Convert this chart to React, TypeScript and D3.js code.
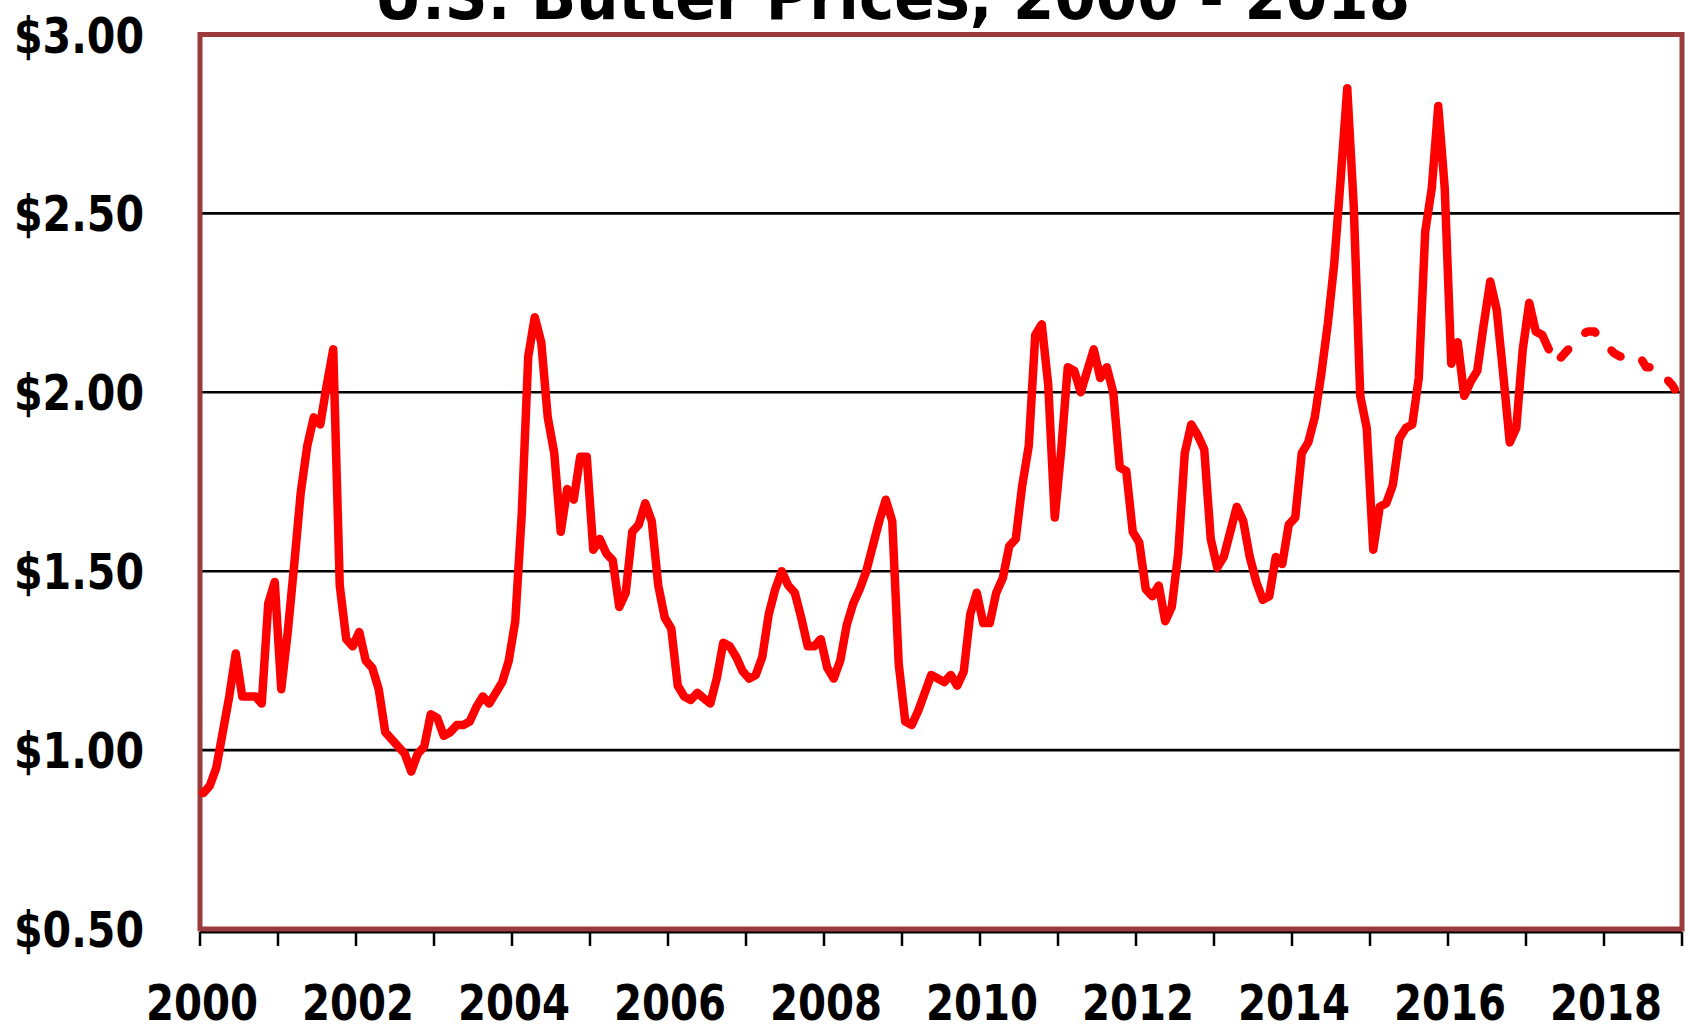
import React from "react";
import * as d3 from "d3";

// monthly butter price, $/lb, Jan 2000 .. Apr 2017 (actual)
const actual = [
  // 2000
  0.88, 0.9, 0.95, 1.05, 1.15, 1.27, 1.15, 1.15, 1.15, 1.13, 1.41, 1.47,
  // 2001
  1.17, 1.33, 1.52, 1.72, 1.85, 1.93, 1.91, 2.02, 2.12, 1.46, 1.31, 1.29,
  // 2002
  1.33, 1.25, 1.23, 1.17, 1.05, 1.03, 1.01, 0.99, 0.94, 0.99, 1.01, 1.1,
  // 2003
  1.09, 1.04, 1.05, 1.07, 1.07, 1.08, 1.12, 1.15, 1.13, 1.16, 1.19, 1.25,
  // 2004
  1.36, 1.66, 2.1, 2.21, 2.14, 1.93, 1.83, 1.61, 1.73, 1.7, 1.82, 1.82,
  // 2005
  1.56, 1.59, 1.55, 1.53, 1.4, 1.44, 1.61, 1.63, 1.69, 1.64, 1.46, 1.37,
  // 2006
  1.34, 1.18, 1.15, 1.14, 1.16, 1.145, 1.13, 1.2, 1.3, 1.29, 1.26, 1.22,
  // 2007
  1.2, 1.21, 1.26, 1.38, 1.45, 1.5, 1.46, 1.44, 1.37, 1.29, 1.29, 1.31,
  // 2008
  1.23, 1.2, 1.25, 1.35, 1.41, 1.45, 1.5, 1.57, 1.64, 1.7, 1.64, 1.24,
  // 2009
  1.08, 1.07, 1.11, 1.16, 1.21, 1.2, 1.19, 1.21, 1.18, 1.22, 1.38, 1.44,
  // 2010
  1.355, 1.355, 1.44, 1.48, 1.57, 1.59, 1.74, 1.85, 2.16, 2.19, 2.02, 1.65,
  // 2011
  1.84, 2.07, 2.06, 2.0, 2.06, 2.12, 2.04, 2.07, 2.0, 1.79, 1.78, 1.61,
  // 2012
  1.58, 1.45, 1.43, 1.46, 1.36, 1.4, 1.55, 1.83, 1.91, 1.88, 1.84, 1.59,
  // 2013
  1.51, 1.54, 1.61, 1.68, 1.64, 1.54, 1.47, 1.42, 1.43, 1.54, 1.52, 1.63,
  // 2014
  1.65, 1.83, 1.86, 1.93, 2.05, 2.19, 2.36, 2.6, 2.85, 2.52, 1.99, 1.9,
  // 2015
  1.56, 1.68, 1.69, 1.74, 1.87, 1.9, 1.91, 2.04, 2.45, 2.57, 2.8, 2.57,
  // 2016
  2.08, 2.14, 1.99, 2.03, 2.06, 2.19, 2.31, 2.23, 2.05, 1.86, 1.9, 2.12,
  // 2017
  2.25, 2.17, 2.16, 2.12,
];

// forecast, starts at the last actual month (Apr 2017) and runs to Dec 2018
const forecast = [
  2.12, 2.08, 2.1, 2.12, 2.14, 2.16, 2.17, 2.17, 2.15, 2.13, 2.11, 2.1,
  2.1, 2.1, 2.1, 2.07, 2.07, 2.06, 2.04, 2.02, 1.99,
];

const yTicks = [0.5, 1.0, 1.5, 2.0, 2.5, 3.0];
const yearTicks = d3.range(2000, 2020);
const yearLabels = [2000, 2002, 2004, 2006, 2008, 2010, 2012, 2014, 2016, 2018];

const title = "U.S. Butter Prices, 2000 - 2018";

const W = 1690;
const H = 1028;
const left = 200;
const right = 1682;
const top = 34.5;
const bottom = 929;
const months = (2019 - 2000) * 12;

const font = "'DejaVu Sans Condensed', 'DejaVu Sans', sans-serif";

export default function App() {
  const x = d3.scaleLinear().domain([0, months]).range([left, right]);
  const y = d3.scaleLinear().domain([0.5, 3.0]).range([bottom, top]);

  const line = d3
    .line<[number, number]>()
    .x((d) => x(d[0] + 0.5))
    .y((d) => y(d[1]));

  const actualPts: [number, number][] = actual.map((v, i) => [i, v]);
  const fStart = actual.length - 1;
  const forecastPts: [number, number][] = forecast.map((v, i) => [fStart + i, v]);

  const yearX = (yr: number) => x((yr - 2000) * 12);

  return (
    <svg
      width={W}
      height={H}
      style={{ position: "absolute", left: 0, top: 0, background: "#fff", overflow: "hidden" }}
    >
      <text
        x={892}
        y={19}
        textAnchor="middle"
        fontFamily={font}
        fontStretch="condensed"
        fontWeight="bold"
        fontSize={64}
        textLength={1036}
        lengthAdjust="spacingAndGlyphs"
      >
        {title}
      </text>

      {/* gridlines */}
      {yTicks
        .filter((t) => t > 0.5 && t < 3.0)
        .map((t) => (
          <line key={t} x1={left} x2={right} y1={y(t)} y2={y(t)} stroke="#000" strokeWidth={2.6} />
        ))}

      {/* bottom axis + ticks */}
      <line x1={left} x2={right} y1={bottom + 3} y2={bottom + 3} stroke="#000" strokeWidth={3} />
      {yearTicks.map((yr) => (
        <line
          key={yr}
          x1={yearX(yr)}
          x2={yearX(yr)}
          y1={bottom + 3}
          y2={bottom + 17}
          stroke="#000"
          strokeWidth={2.5}
        />
      ))}

      {/* plot frame */}
      <rect
        x={left}
        y={top}
        width={right - left}
        height={bottom - top}
        fill="none"
        stroke="#9b3a3a"
        strokeWidth={5}
      />

      {/* y labels */}
      {yTicks.map((t) => (
        <text
          key={t}
          x={144}
          y={y(t) + 18}
          textAnchor="end"
          fontFamily={font}
          fontStretch="condensed"
          fontWeight="bold"
          fontSize={50}
          textLength={130}
          lengthAdjust="spacingAndGlyphs"
        >
          {"$" + t.toFixed(2)}
        </text>
      ))}

      {/* x labels */}
      {yearLabels.map((yr) => (
        <text
          key={yr}
          x={yearX(yr) + 2}
          y={1020}
          textAnchor="middle"
          fontFamily={font}
          fontStretch="condensed"
          fontWeight="bold"
          fontSize={50}
          textLength={112}
          lengthAdjust="spacingAndGlyphs"
        >
          {yr}
        </text>
      ))}

      {/* series */}
      <path
        d={line(actualPts) || ""}
        fill="none"
        stroke="#ff0000"
        strokeWidth={8.5}
        strokeLinejoin="round"
        strokeLinecap="round"
      />
      <path
        d={line(forecastPts) || ""}
        fill="none"
        stroke="#ff0000"
        strokeWidth={8.5}
        strokeLinejoin="round"
        strokeLinecap="round"
        strokeDasharray="11 24"
        strokeDashoffset={11}
      />
    </svg>
  );
}
